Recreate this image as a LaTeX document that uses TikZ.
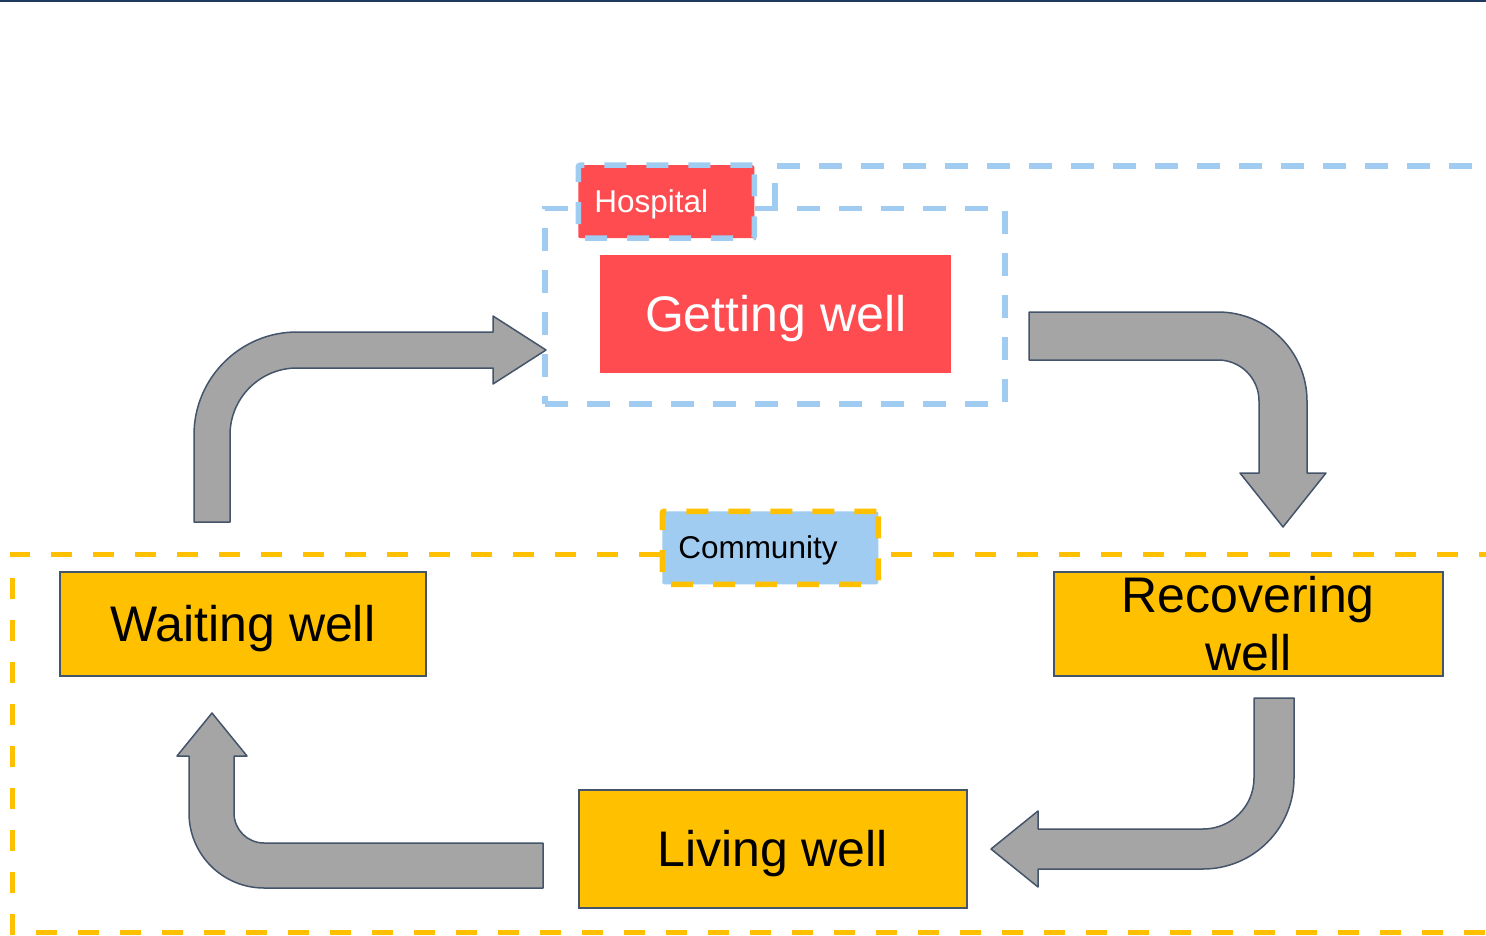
\documentclass[tikz,border=0pt]{standalone}
\usepackage{fontspec}
\setmainfont{Liberation Sans}
\usepackage{tikz}
\usepackage{xcolor}
\definecolor{hospred}  {RGB}{255,  76,  80}
\definecolor{zoneblue} {RGB}{160, 204, 242}
\definecolor{commgold} {RGB}{255, 192,   0}
\definecolor{arrowgray}{RGB}{165, 165, 165}
\definecolor{slate}    {RGB}{ 68,  84, 106}
\definecolor{navyrule} {RGB}{ 31,  56,  96}
\tikzset{
  stage/.style={
    draw=slate, fill=commgold, line width=1.5pt,
    inner sep=0pt, anchor=north west,
    align=center, font=\fontsize{50}{58}\selectfont
  },
  acute/.style={
    fill=hospred, text=white, inner sep=0pt, anchor=north west,
    align=center, font=\fontsize{50}{58}\selectfont
  },
  oneline/.style={
    text height=45.3pt, text depth=10.6pt
  },
  zonetag/.style 2 args={
    fill=#1, draw=#2, line width=5.5pt, dash pattern=on 22pt off 20pt,
    rounded corners=2pt, anchor=north west,
    inner xsep=16pt, inner ysep=0pt, minimum height=73pt,
    align=left, font=\fontsize{31.5}{36}\selectfont,
    text height=28.5pt, text depth=6.7pt
  },
  hospzone/.style={
    draw=zoneblue, line width=5.5pt, dash pattern=on 23pt off 19pt
  },
  commzone/.style={
    draw=commgold, line width=5pt, dash pattern=on 21pt off 21pt
  },
  bentarrow/.style={
    fill=arrowgray, draw=slate, line width=1.5pt, line join=round
  },
}
\begin{document}
\begin{tikzpicture}[x=1pt, y=-1pt]

\useasboundingbox (0,0) rectangle (1486,936);
\clip (0,0) rectangle (1486,936);

% ── Top rule ──────────────────────────────────────────────────────────────────
\draw[navyrule, line width=2.5pt] (0,1) -- (1486,1);

% ── Hospital zone ─────────────────────────────────────────────────────────────
\node[hospzone, inner sep=0pt, anchor=north west,
      minimum width=460pt, minimum height=195pt] (hzone) at (542,206) {};
\coordinate (hlink) at (775,206);
\draw[hospzone] (hlink) -- (775,166) -- (1500,166);

\node[acute, oneline, minimum width=351pt, minimum height=118pt]
  (getting) at (600,255) {Getting well};

\node[zonetag={hospred}{zoneblue}, text=white, text width=144pt]
  (hosptag) at (575.5,162.5) {Hospital};

% ── Community zone ────────────────────────────────────────────────────────────
\draw[commzone] (1500,554) -- (12,554) -- (12,932) -- (1500,932);

\node[zonetag={zoneblue}{commgold}, text width=184pt]
  (commtag) at (659.5,508.5) {Community};

\node[stage, oneline, minimum width=366pt, minimum height=104pt]
  (waiting) at (59,571) {Waiting well};
\node[stage, minimum width=389pt, minimum height=104pt]
  (recovering) at (1053,571) {Recovering\\well};
\node[stage, oneline, minimum width=388pt, minimum height=118pt]
  (living) at (578,789) {Living well};

% ── Bent arrows round the cycle ───────────────────────────────────────────────
% waiting -> getting
\filldraw[bentarrow] (194,522) -- (194,435)
  arc[start angle=180, end angle=270, radius=103]
  -- (493,332) -- (493,316) -- (546,350) -- (493,384) -- (493,368) -- (297,368)
  arc[start angle=270, end angle=180, radius=67]
  -- (230,522) -- cycle;

% getting -> recovering
\filldraw[bentarrow] (1029,312) -- (1218,312)
  arc[start angle=270, end angle=360, radius=89]
  -- (1307,473) -- (1326,473) -- (1283,527) -- (1240,473) -- (1259,473) -- (1259,401)
  arc[start angle=0, end angle=-90, radius=41]
  -- (1029,360) -- cycle;

% recovering -> living
\filldraw[bentarrow] (1254,698) -- (1294,698) -- (1294,778)
  arc[start angle=0, end angle=90, radius=91]
  -- (1038,869) -- (1038,887) -- (991,849) -- (1038,811) -- (1038,829) -- (1203,829)
  arc[start angle=90, end angle=0, radius=51]
  -- cycle;

% living -> waiting
\filldraw[bentarrow] (543,843) -- (543,888) -- (264,888)
  arc[start angle=90, end angle=180, radius=75]
  -- (189,756) -- (177,756) -- (212,713) -- (247,756) -- (234,756) -- (234,813)
  arc[start angle=180, end angle=90, radius=30]
  -- cycle;

\end{tikzpicture}
\end{document}
